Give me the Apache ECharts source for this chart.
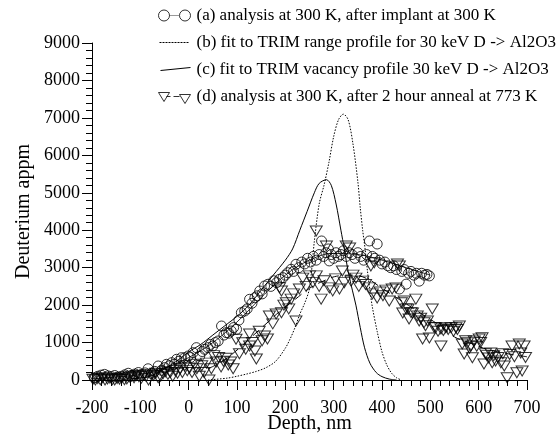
<!DOCTYPE html>
<html>
<head>
<meta charset="utf-8">
<script src="https://cdn.jsdelivr.net/npm/echarts@6/dist/echarts.min.js"></script>
<style>html,body{margin:0;padding:0;background:#fff}#c{width:556px;height:435px}</style>
</head>
<body>
<div id="c"></div>
<script>
// ---- data ----
var seriesNames = [
  '(a) analysis at 300 K, after implant at 300 K',
  '(b) fit to TRIM range profile for 30 keV D -> Al2O3',
  '(c) fit to TRIM vacancy profile 30 keV D -> Al2O3',
  '(d) analysis at 300 K, after 2 hour anneal at 773 K'
];
var xTicks = [-200, -100, 0, 100, 200, 300, 400, 500, 600, 700];
var yTicks = [0, 1000, 2000, 3000, 4000, 5000, 6000, 7000, 8000, 9000];

// (a) circles
var aDepth = [-195,-188,-181,-174,-167,-160,-153,-146,-139,-132,-125,-118,-111,-104,-97,-90,-84,-77,-70,-63,-56,-50,-46,-40,-35,-30,-25,-20,-15,-8,-1,4,9,16,23,28,33,40,45,50,55,61,68,73,78,83,88,93,99,104,109,116,121,126,131,137,142,147,152,157,164,170,176,182,188,195,200,205,212,217,222,228,234,240,246,252,258,264,270,275,279,284,289,291,295,300,305,310,315,320,326,332,338,344,350,356,362,368,374,380,385,390,395,400,406,412,418,424,430,436,441,446,450,455,460,466,471,477,482,488,493,498];
var aConc  = [60,100,130,150,110,90,120,80,100,140,180,120,160,200,150,190,300,180,230,374,260,330,419,380,463,420,553,500,596,596,641,600,730,864,641,760,820,864,950,908,1000,1042,1442,1200,1264,1250,1309,1400,1353,1600,1798,1843,1900,2155,2050,2198,2250,2377,2300,2511,2556,2500,2650,2600,2690,2733,2800,2866,2956,2900,3090,3000,3150,3100,3250,3150,3300,3200,3350,3713,3300,3400,3500,3180,3350,3250,3400,3300,3350,3450,3300,3400,3350,3250,3400,3300,3200,3350,3713,3300,3250,3632,3200,3100,3150,3050,3000,3050,2950,2430,2900,2950,2560,2850,2900,2800,2850,2640,2850,2800,2820,2780];

// (d) triangles
var dDepth = [-198,-193,-188,-183,-178,-173,-168,-163,-158,-153,-148,-143,-138,-133,-128,-123,-118,-113,-108,-103,-98,-93,-88,-83,-78,-73,-68,-63,-58,-53,-48,-43,-38,-33,-28,-23,-18,-13,-8,-3,2,7,12,17,22,27,32,37,42,47,52,57,62,67,72,77,82,87,92,98,105,112,118,126,126,132,137,140,146,152,157,163,167,174,181,188,192,192,197,202,207,212,217,222,229,236,243,250,257,264,264,270,274,280,285,291,298,304,312,318,322,326,333,336,340,346,352,360,366,374,377,380,384,390,396,402,408,415,421,429,432,436,440,443,446,450,454,456,460,463,470,473,477,480,484,487,490,494,498,504,508,511,516,522,522,527,532,537,543,548,553,556,560,566,570,573,577,581,584,587,591,596,601,604,607,611,614,617,621,625,628,631,635,640,646,650,653,659,664,669,674,679,684,687,690,694,697];
var dConc  = [20,0,40,10,60,0,30,50,10,0,40,20,60,10,30,80,100,60,120,90,50,130,100,0,150,120,180,60,100,170,220,150,200,100,250,180,300,200,380,250,320,200,420,300,100,380,200,450,0,300,650,480,600,350,500,580,400,480,300,1087,700,996,820,1228,908,1000,775,560,1300,1050,1175,1095,1710,1500,1763,2465,1797,2377,2000,2065,1900,2160,2300,1575,2430,2720,2500,2780,2600,2780,3980,2500,2160,2650,3580,2460,2380,2700,2430,2910,2600,3580,3525,2640,2800,2720,2500,2640,2550,2460,3045,2300,3133,2190,2350,2250,2400,2110,2430,2460,3100,3045,2065,1790,2110,1900,1896,1630,1800,1790,2160,1710,1576,1650,1095,1530,1450,1576,1122,1896,1400,1397,1300,1362,908,1320,1397,1350,1397,1300,1397,1350,1442,962,695,1050,996,850,908,595,1042,900,1095,1000,1130,427,700,650,588,720,462,650,508,600,462,700,374,62,680,908,620,195,962,720,240,908,600];

// (b) TRIM range profile fit
var bDepth = [40,80,100,120,140,160,180,200,210,220,230,240,250,260,270,280,290,300,310,320,330,340,350,355,360,365,370,375,380,390,400,410,420,430,440];
var bConc  = [0,50,100,160,230,330,500,850,1100,1400,1760,2050,2450,3700,4700,5200,5800,6500,6950,7100,6950,6300,5300,4600,4000,3500,2900,2400,1950,1300,750,400,180,60,0];

// (c) TRIM vacancy profile fit
var cDepth = [-120,-80,-50,-20,0,25,50,75,100,125,150,175,200,215,230,245,260,270,285,295,305,315,322,330,339,346,355,364,375,388,400,415,430];
var cConc  = [30,100,300,550,750,950,1200,1450,1700,2000,2400,2800,3200,3500,4000,4500,5000,5250,5350,5200,4700,4000,3500,2900,2380,2000,1400,860,450,200,90,25,0];

// trend lines drawn through (a) and (d)
var aTrendDepth = [-200,-150,-100,-50,0,50,100,150,200,250,300,350,400,450,500];
var aTrendConc  = [30,80,150,320,600,1000,1550,2200,2800,3200,3380,3350,3200,3000,2800];
var dTrendDepth = [40,70,100,130,160,190,220,250,280,310,340,370,400,430,460,490,520,550,580,610,640,670,700];
var dTrendConc  = [300,500,800,1150,1500,1850,2150,2450,2650,2780,2800,2700,2450,2200,1950,1700,1450,1150,1000,850,750,680,620];

function zip(xs, ys) { return xs.map(function (x, i) { return [x, ys[i]]; }); }

var FONT = '"Liberation Serif", "Times New Roman", serif';
var chart = echarts.init(document.getElementById('c'), null, { renderer: 'canvas' });

// legend icons (shape only)
var dotsA = '';
for (var i = 12; i < 22; i += 2) { dotsA += ' M' + i + ',7 L' + (i + 1) + ',7'; }
var iconA = 'path://M0,0 M34,14 M1,7 A5.5,5.5 0 1,1 12,7 A5.5,5.5 0 1,1 1,7 Z' + dotsA + ' M22,7 A5.5,5.5 0 1,1 33,7 A5.5,5.5 0 1,1 22,7 Z';
var iconB = 'path://M0,0 M34,14 M2,7 L32,7';
var iconC = 'path://M0,0 M34,14 M3,8 L33,5';
var iconD = 'path://M0,0 M34,14 M1,3 L12,3 L6.5,12 Z M9,7 L13,7 M16,7 L22,7 M22,5 L33,5 L27.5,14 Z';

var legendItemStyle = { color: 'none', borderColor: '#000', borderWidth: 1 };
function plainLabel(v) { return String(v); }

chart.setOption({
  animation: false,
  backgroundColor: '#fff',
  grid: { left: 92, right: 29, top: 43, bottom: 55, containLabel: false, outerBoundsMode: 'none' },
  legend: {
    orient: 'vertical',
    left: 150,
    top: 1,
    itemWidth: 34,
    itemHeight: 14,
    itemGap: 8,
    textStyle: { fontFamily: FONT, fontSize: 17, color: '#000' },
    selectedMode: false,
    data: [
      { name: seriesNames[0], icon: iconA, itemStyle: legendItemStyle },
      { name: seriesNames[1], icon: iconB, itemStyle: { color: 'none', borderColor: '#000', borderWidth: 1, borderType: [2, 1] } },
      { name: seriesNames[2], icon: iconC, itemStyle: legendItemStyle },
      { name: seriesNames[3], icon: iconD, itemStyle: legendItemStyle }
    ]
  },
  xAxis: {
    type: 'value',
    min: xTicks[0], max: xTicks[xTicks.length - 1], interval: 100,
    name: 'Depth, nm', nameLocation: 'middle', nameGap: 34, nameMoveOverlap: false,
    nameTextStyle: { fontFamily: FONT, fontSize: 20, color: '#000' },
    axisLine: { onZero: false, lineStyle: { color: '#000', width: 1 } },
    axisTick: { show: true, inside: false, length: 10, lineStyle: { color: '#000' } },
    minorTick: { show: true, splitNumber: 5, length: 6, lineStyle: { color: '#000' } },
    axisLabel: { fontFamily: FONT, fontSize: 18, color: '#000', margin: 19, formatter: plainLabel },
    splitLine: { show: false }
  },
  yAxis: {
    type: 'value',
    min: yTicks[0], max: yTicks[yTicks.length - 1], interval: 1000,
    name: 'Deuterium appm', nameLocation: 'middle', nameGap: 58, nameMoveOverlap: false,
    nameTextStyle: { fontFamily: FONT, fontSize: 20, color: '#000' },
    axisLine: { show: true, onZero: false, lineStyle: { color: '#000', width: 1 } },
    axisTick: { show: true, inside: false, length: 10, lineStyle: { color: '#000' } },
    minorTick: { show: true, splitNumber: 5, length: 6, lineStyle: { color: '#000' } },
    axisLabel: { fontFamily: FONT, fontSize: 18, color: '#000', margin: 12, formatter: plainLabel },
    splitLine: { show: false }
  },
  series: [
    {
      name: seriesNames[0], type: 'scatter', data: zip(aDepth, aConc),
      symbol: 'circle', symbolSize: 10,
      itemStyle: { color: 'rgba(0,0,0,0)', borderColor: '#000', borderWidth: 1 },
      z: 3
    },
    {
      name: seriesNames[1], type: 'line', data: zip(bDepth, bConc), smooth: 0.3,
      symbol: 'none', lineStyle: { color: '#000', width: 1, type: [1.5, 1.5] }, z: 2
    },
    {
      name: seriesNames[2], type: 'line', data: zip(cDepth, cConc), smooth: 0.3,
      symbol: 'none', lineStyle: { color: '#000', width: 1, type: 'solid' }, z: 2
    },
    {
      name: seriesNames[3], type: 'scatter', data: zip(dDepth, dConc),
      symbol: 'triangle', symbolRotate: 180, symbolSize: [12, 10],
      itemStyle: { color: 'rgba(0,0,0,0)', borderColor: '#000', borderWidth: 1 },
      z: 3
    },
    {
      name: 'trend a', type: 'line', data: zip(aTrendDepth, aTrendConc), smooth: 0.4,
      symbol: 'none', lineStyle: { color: '#000', width: 0.8, type: 'solid' }, z: 2
    },
    {
      name: 'trend d', type: 'line', data: zip(dTrendDepth, dTrendConc), smooth: 0.4,
      symbol: 'none', lineStyle: { color: '#000', width: 1, type: [8, 6] }, z: 2
    }
  ]
});
</script>
</body>
</html>
